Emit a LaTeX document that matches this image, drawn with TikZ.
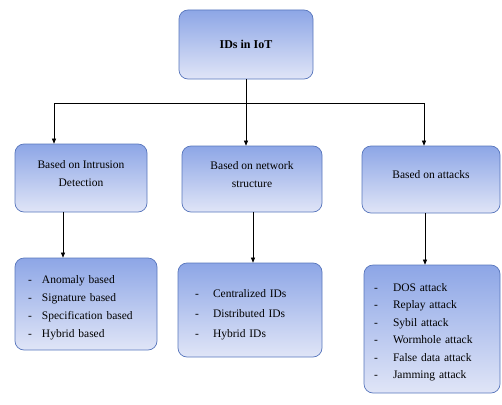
\documentclass[tikz,border=0pt]{standalone}
\usepackage{fontspec}
\setmainfont{Liberation Serif}
\usetikzlibrary{arrows.meta, positioning}

\definecolor{boxline}{RGB}{88,118,188}
\definecolor{boxtop}{RGB}{141,166,230}
\definecolor{boxbot}{RGB}{224,229,247}

\newcommand{\dashitem}[2][18pt]{\makebox[#1][l]{-}#2}

\tikzset{
	idsbox/.style={draw=boxline, line width=0.7pt, rounded corners=9pt,
		top color=boxtop, bottom color=boxbot, inner sep=0pt},
	boxtext/.style={align=center, inner sep=0pt, font=\fontsize{11.5}{18}\selectfont},
	listtext/.style={align=left, inner sep=0pt, font=\fontsize{11.5}{18}\selectfont},
	arr/.style={-{Triangle[length=5pt,width=4pt]}, line width=0.6pt},
	bus/.style={line width=0.6pt}
}

\begin{document}
\begin{tikzpicture}[x=1pt,y=-1pt]
	\useasboundingbox (0,0) rectangle (502,404);
	% top level
	\node[idsbox, minimum width=134pt, minimum height=69pt,
		font=\fontsize{12}{14}\bfseries] (root) at (246,44.5) {IDs in IoT};
	% second level
	\node[idsbox, minimum width=132pt, minimum height=68pt,
		label={[boxtext, yshift=4pt]center:{Based on Intrusion\\Detection}}] (intr) at (81,178) {};
	\node[idsbox, minimum width=140pt, minimum height=66pt,
		label={[boxtext, yshift=4pt]center:{Based on network\\structure}}] (net) at (252,179) {};
	\node[idsbox, minimum width=138pt, minimum height=67pt,
		label={[boxtext, yshift=4.5pt]center:{Based on attacks}}] (att) at (431,179.5) {};
	% third level
	\node[idsbox, minimum width=142pt, minimum height=92pt,
		label={[listtext, text width=116pt, xshift=0pt, yshift=-4pt]center:{%
		\dashitem[14pt]{Anomaly based}\\ \dashitem[14pt]{Signature based}\\
		\dashitem[14pt]{Specification based}\\ \dashitem[14pt]{Hybrid based}}}] (anom) at (86,304) {};
	\node[idsbox, minimum width=144pt, minimum height=94pt,
		label={[listtext, text width=110pt, yshift=-5pt,
		font=\fontsize{11.5}{20}\selectfont]center:{%
		\dashitem{Centralized IDs}\\ \dashitem{Distributed IDs}\\ \dashitem{Hybrid IDs}}}] (cent) at (250,310) {};
	\node[idsbox, minimum width=136pt, minimum height=128pt,
		label={[listtext, text width=116pt, yshift=-3pt,
		font=\fontsize{11.5}{17.5}\selectfont]center:{%
		\dashitem[19pt]{DOS attack}\\ \dashitem[19pt]{Replay attack}\\
		\dashitem[19pt]{Sybil attack}\\ \dashitem[19pt]{Wormhole attack}\\
		\dashitem[19pt]{False data attack}\\ \dashitem[19pt]{Jamming attack}}}] (dos) at (432,329) {};

	% connectors
	\coordinate (split) at (246,103);
	\coordinate (splitL) at (54,103);
	\coordinate (splitR) at (424,103);
	\draw[bus] (root.south) -- (split);
	\draw[bus] (splitL) -- (splitR);
	\draw[arr] (splitL) -- (splitL |- intr.north);
	\draw[arr] (split) -- (split |- net.north);
	\draw[arr] (splitR) -- (splitR |- att.north);

	\draw[arr] ([xshift=-18pt]intr.south) -- ([xshift=-18pt]intr.south |- anom.north);
	\draw[arr] ([xshift=1pt]net.south) -- ([xshift=1pt]net.south |- cent.north);
	\draw[arr] ([xshift=-6pt]att.south) -- ([xshift=-6pt]att.south |- dos.north);
\end{tikzpicture}
\end{document}
